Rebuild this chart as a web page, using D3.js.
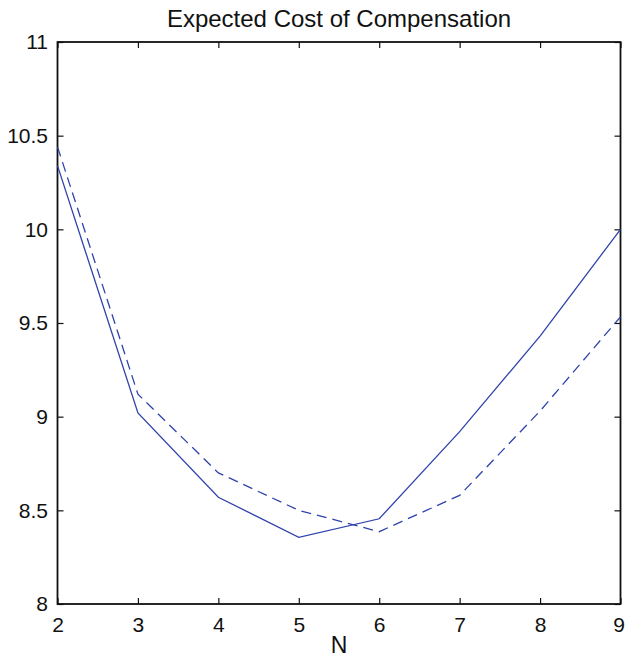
<!DOCTYPE html>
<html>
<head>
<meta charset="utf-8">
<script src="https://cdn.jsdelivr.net/npm/d3@7"></script>
<style>
  body { margin: 0; background: #fff; }
  text { font-family: "Liberation Sans", Arial, sans-serif; fill: #111; }
</style>
</head>
<body>
<div id="chart"></div>
<script>
// values
const nValues = [2, 3, 4, 5, 6, 7, 8, 9];
const solidCost = [10.34, 9.02, 8.57, 8.356, 8.455, 8.92, 9.43, 10.0];
const dashedCost = [10.44, 9.12, 8.70, 8.50, 8.386, 8.58, 9.03, 9.533];
const xTicks = [2, 3, 4, 5, 6, 7, 8, 9];
const yTicks = [8, 8.5, 9, 9.5, 10, 10.5, 11];

const width = 625, height = 659;
const margin = { top: 42, right: 4.5, bottom: 55, left: 57.5 };
const innerW = width - margin.left - margin.right;
const innerH = height - margin.top - margin.bottom;
const lineColor = '#2f43ab';

const svg = d3.select('#chart').append('svg')
  .attr('width', width)
  .attr('height', height);

const g = svg.append('g')
  .attr('transform', 'translate(' + margin.left + ',' + margin.top + ')');

const x = d3.scaleLinear().domain([2, 9]).range([0, innerW]);
const y = d3.scaleLinear().domain([8, 11]).range([innerH, 0]);

// axes with inward ticks on all four sides
const styleAxis = (sel, showText) => {
  sel.select('.domain').remove();
  sel.selectAll('line').attr('stroke', '#111').attr('stroke-width', 1.2);
  sel.selectAll('text')
    .style('font-size', '21px')
    .style('font-family', '"Liberation Sans", Arial, sans-serif')
    .attr('fill', '#111');
  if (!showText) sel.selectAll('text').remove();
};

g.append('g')
  .attr('transform', 'translate(0,' + innerH + ')')
  .call(d3.axisBottom(x).tickValues(xTicks).tickFormat(d3.format('d')).tickSizeInner(-6).tickSizeOuter(0).tickPadding(13))
  .call(s => styleAxis(s, true))
  // last label sits at the window edge, keep it inside
  .call(s => s.selectAll('.tick text').filter(d => d === 9)
    .attr('text-anchor', 'end')
    .attr('x', margin.right - 0.5));

g.append('g')
  .call(d3.axisTop(x).tickValues(xTicks).tickSizeInner(-6).tickSizeOuter(0))
  .call(s => styleAxis(s, false));

g.append('g')
  .call(d3.axisLeft(y).tickValues(yTicks).tickFormat(d => String(d)).tickSizeInner(-6).tickSizeOuter(0).tickPadding(9.5))
  .call(s => styleAxis(s, true));

g.append('g')
  .attr('transform', 'translate(' + innerW + ',0)')
  .call(d3.axisRight(y).tickValues(yTicks).tickSizeInner(-6).tickSizeOuter(0))
  .call(s => styleAxis(s, false));

// box
g.append('rect')
  .attr('width', innerW)
  .attr('height', innerH)
  .attr('fill', 'none')
  .attr('stroke', '#111')
  .attr('stroke-width', 1.8);

const line = d3.line()
  .x((d, i) => x(nValues[i]))
  .y(d => y(d));

g.append('path')
  .datum(solidCost)
  .attr('d', line)
  .attr('fill', 'none')
  .attr('stroke', lineColor)
  .attr('stroke-width', 1.3);

g.append('path')
  .datum(dashedCost)
  .attr('d', line)
  .attr('fill', 'none')
  .attr('stroke', lineColor)
  .attr('stroke-width', 1.3)
  .attr('stroke-dasharray', '10,6');

// title and axis label
svg.append('text')
  .attr('x', margin.left + innerW / 2)
  .attr('y', 27)
  .attr('text-anchor', 'middle')
  .style('font-size', '24px')
  .text('Expected Cost of Compensation');

svg.append('text')
  .attr('x', margin.left + innerW / 2)
  .attr('y', 653)
  .attr('text-anchor', 'middle')
  .style('font-size', '23px')
  .text('N');
</script>
</body>
</html>
